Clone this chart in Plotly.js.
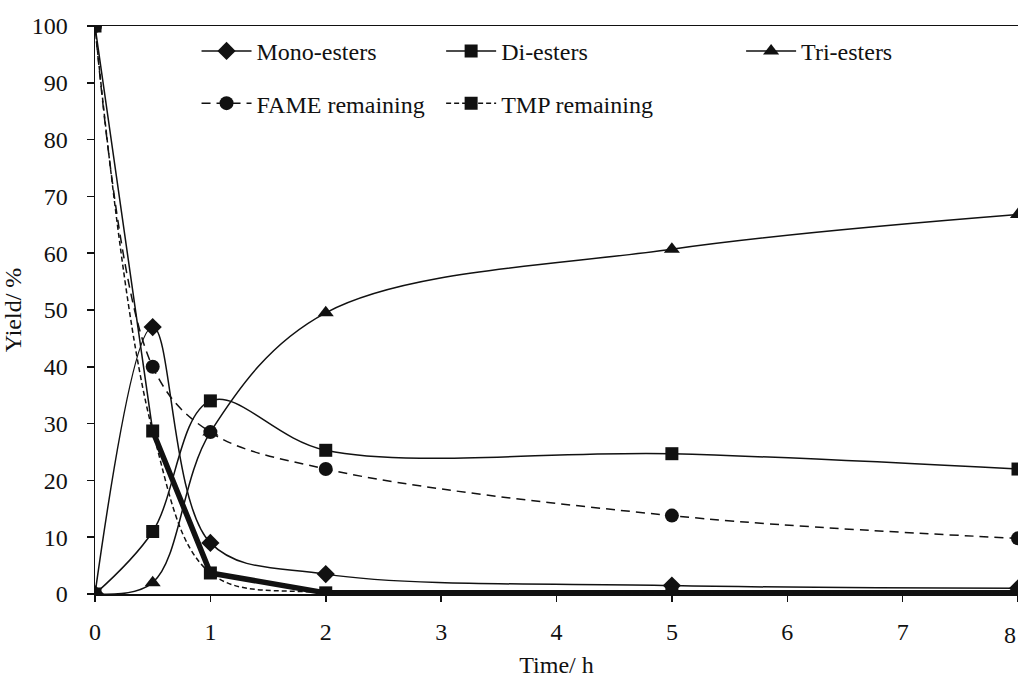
<!DOCTYPE html>
<html>
<head>
<meta charset="utf-8">
<script src="https://cdn.plot.ly/plotly-3.0.1.min.js"></script>
<style>html,body{margin:0;padding:0;background:#fff;}#chart{width:1018px;height:681px;}</style>
</head>
<body>
<div id="chart"></div>
<script>
const time = [0, 0.5, 1, 2, 5, 8];
const monoEsters = [0, 47, 9, 3.5, 1.5, 1];
const diEsters = [0, 11, 34, 25.3, 24.7, 22];
const triEsters = [0, 2, 28.5, 49.5, 60.7, 66.8];
const fameRemaining = [100, 40, 28.5, 22, 13.8, 9.8];
const tmpRemaining = [100, 28.7, 3.7, 0.2, 0.2, 0.2];
const xTicks = [0, 1, 2, 3, 4, 5, 6, 7, 8];
const yTicks = [0, 10, 20, 30, 40, 50, 60, 70, 80, 90, 100];

const black = '#111';
const FONT = 'Liberation Serif, Times New Roman, serif';
const FS = 24;

function series(name, y, symbol, dash, legend, group, size) {
  return {
    x: time, y: y, name: name, type: 'scatter', mode: 'lines+markers',
    line: {color: black, width: 1.5, shape: 'spline', smoothing: 1, dash: dash},
    marker: {symbol: symbol, size: size, color: black},
    legend: legend, legendgroup: group
  };
}

const traces = [
  {x: time, y: tmpRemaining, type: 'scatter', mode: 'lines', showlegend: false,
   line: {color: black, width: 1.5}, hoverinfo: 'skip'},
  {x: time.slice(1), y: tmpRemaining.slice(1), type: 'scatter', mode: 'lines', showlegend: false,
   line: {color: black, width: 5.5}, hoverinfo: 'skip'},
  series('Mono-esters', monoEsters, 'diamond', 'solid', 'legend', 'a', 14),
  series('FAME remaining', fameRemaining, 'circle', '9px,6px', 'legend', 'b', 14),
  series('Di-esters', diEsters, 'square', 'solid', 'legend2', 'c', 13),
  series('TMP remaining', tmpRemaining, 'square', '5px,3px', 'legend2', 'd', 13),
  series('Tri-esters', triEsters, 'triangle-up', 'solid', 'legend3', 'e', 14)
];

const legendBase = {
  font: {family: FONT, size: FS, color: black},
  bgcolor: 'rgba(0,0,0,0)', borderwidth: 0,
  orientation: 'v', traceorder: 'grouped', tracegroupgap: 18,
  itemwidth: 50, yanchor: 'top', xanchor: 'left', y: 0.995
};

const layout = {
  width: 1018, height: 681,
  margin: {l: 95, r: 0, t: 26, b: 87},
  paper_bgcolor: '#fff', plot_bgcolor: '#fff',
  font: {family: FONT, size: FS, color: black},
  showlegend: true,
  xaxis: {
    range: [0, 8], tickvals: xTicks, ticktext: xTicks.map(String),
    showgrid: false, zeroline: false,
    showline: true, linecolor: black, linewidth: 1.5, mirror: true,
    ticks: 'outside', ticklen: 6, tickcolor: black, tickwidth: 1.5,
    ticklabelstandoff: 10,
    tickfont: {family: FONT, size: FS, color: black},
    title: {text: 'Time/ h', font: {family: FONT, size: FS, color: black}, standoff: 12}
  },
  yaxis: {
    range: [0, 100], tickvals: yTicks, ticktext: yTicks.map(String),
    showgrid: false, zeroline: false,
    showline: true, linecolor: black, linewidth: 1.5,
    ticks: 'outside', ticklen: 7, tickcolor: black, tickwidth: 1.5,
    ticklabelstandoff: 14,
    tickfont: {family: FONT, size: FS, color: black},
    title: {text: 'Yield/ %', font: {family: FONT, size: FS, color: black}, standoff: 4}
  },
  legend: Object.assign({}, legendBase, {x: 0.11}),
  legend2: Object.assign({}, legendBase, {x: 0.375}),
  legend3: Object.assign({}, legendBase, {x: 0.7}),
  annotations: [{
    x: 8, y: 0, xref: 'x', yref: 'y', text: String(xTicks[xTicks.length - 1]),
    showarrow: false, xanchor: 'right', yanchor: 'top', yshift: -26,
    font: {family: FONT, size: FS, color: black}
  }]
};

Plotly.newPlot('chart', traces, layout, {displayModeBar: false, staticPlot: true});
</script>
</body>
</html>
